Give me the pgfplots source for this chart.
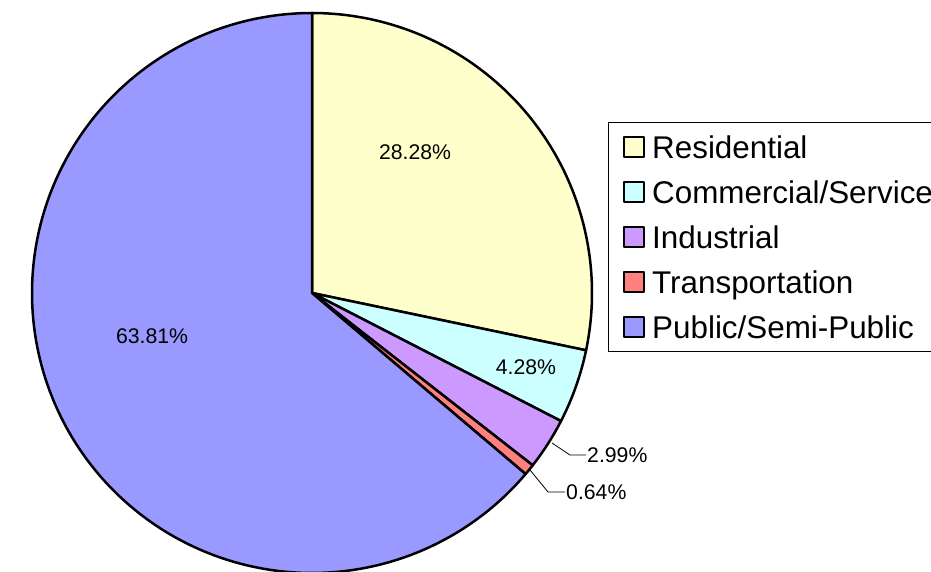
\documentclass[border=0pt]{standalone}
\usepackage{pgfplots}
\pgfplotsset{compat=1.18}
\usepackage{fontspec}
\setmainfont{Liberation Sans}
\definecolor{cRes}{HTML}{FFFFCC}
\definecolor{cCom}{HTML}{CCFFFF}
\definecolor{cInd}{HTML}{CC99FF}
\definecolor{cTra}{HTML}{FF8080}
\definecolor{cPub}{HTML}{9999FF}
% shares in percent
\def\vRes{28.28}
\def\vCom{4.28}
\def\vInd{2.99}
\def\vTra{0.64}
\def\vPub{63.81}
\pgfmathsetmacro\aA{90}
\pgfmathsetmacro\aB{\aA-3.6*\vRes}
\pgfmathsetmacro\aC{\aB-3.6*\vCom}
\pgfmathsetmacro\aD{\aC-3.6*\vInd}
\pgfmathsetmacro\aE{\aD-3.6*\vTra}
\pgfmathsetmacro\aF{\aE-3.6*\vPub}
\def\cx{312}
\def\cy{279}
\def\rr{280}
\pgfplotsset{
  pielegend/.style={legend image code/.code={\draw[##1,line width=2.2bp] (0bp,-10bp) rectangle (20bp,10bp);}},
  slice/.style={draw=black,line width=2.5bp,line join=round,mark=none,pielegend}
}
\begin{document}
\begin{tikzpicture}
\useasboundingbox (0,0) rectangle (931bp,572bp);
\clip (0,0) rectangle (931bp,572bp);
\begin{axis}[at={(0,0)},anchor=south west,width=931bp,height=572bp,scale only axis,
  xmin=0,xmax=931,ymin=0,ymax=572,hide axis,clip=false,
  legend cell align=left,
  legend style={at={(axis cs:608,450)},anchor=north west,draw=black,line width=1bp,fill=white,
    font=\fontsize{31.5}{37}\selectfont,inner xsep=14bp,inner ysep=5bp,row sep=6bp,
    nodes={text height=31bp,text depth=8bp,inner sep=0pt},
    /tikz/every odd column/.append style={column sep=7.5bp}}]
\addplot[slice,fill=cRes,domain=\aB:\aA,samples=120] ({\cx+\rr*cos(x)},{\cy+\rr*sin(x)}) -- (axis cs:\cx,\cy) -- cycle;
\addlegendentry{Residential}
\addplot[slice,fill=cCom,domain=\aC:\aB,samples=30] ({\cx+\rr*cos(x)},{\cy+\rr*sin(x)}) -- (axis cs:\cx,\cy) -- cycle;
\addlegendentry{Commercial/Service}
\addplot[slice,fill=cInd,domain=\aD:\aC,samples=20] ({\cx+\rr*cos(x)},{\cy+\rr*sin(x)}) -- (axis cs:\cx,\cy) -- cycle;
\addlegendentry{Industrial}
\addplot[slice,fill=cTra,domain=\aE:\aD,samples=6] ({\cx+\rr*cos(x)},{\cy+\rr*sin(x)}) -- (axis cs:\cx,\cy) -- cycle;
\addlegendentry{Transportation}
\addplot[slice,fill=cPub,domain=\aF:\aE,samples=240] ({\cx+\rr*cos(x)},{\cy+\rr*sin(x)}) -- (axis cs:\cx,\cy) -- cycle;
\addlegendentry{Public/Semi-Public}
% labels
\node[font=\fontsize{21.3}{24}\selectfont] at (axis cs:415,420) {28.28\%};
\node[font=\fontsize{21.3}{24}\selectfont] at (axis cs:526,205) {4.28\%};
\node[font=\fontsize{21.3}{24}\selectfont] at (axis cs:152,236) {63.81\%};
\node[font=\fontsize{21.3}{24}\selectfont,anchor=west,inner sep=1bp] at (axis cs:586,117) {2.99\%};
\node[font=\fontsize{21.3}{24}\selectfont,anchor=west,inner sep=1bp] at (axis cs:565,80) {0.64\%};
\draw[black,line width=0.8bp] (axis cs:552,129) -- (axis cs:570,117) -- (axis cs:586,117);
\draw[black,line width=0.8bp] (axis cs:530,102) -- (axis cs:548,80) -- (axis cs:565,80);
\end{axis}
\end{tikzpicture}
\end{document}
